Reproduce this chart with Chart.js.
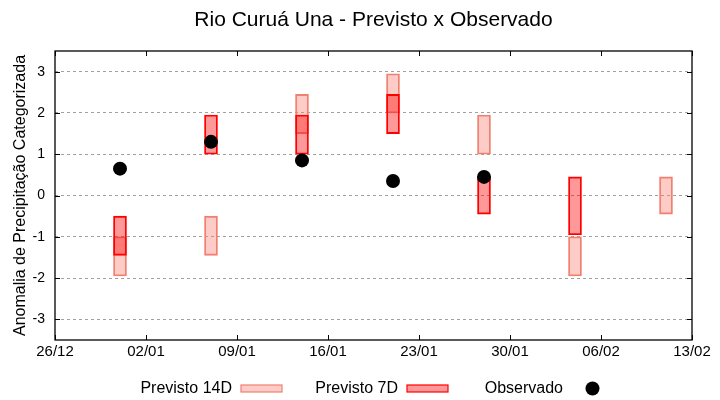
<!DOCTYPE html>
<html>
<head>
<meta charset="utf-8">
<script src="https://cdn.jsdelivr.net/npm/chart.js@4"></script>
<style>
  html, body { margin: 0; padding: 0; background: #fff; }
  #wrap { width: 720px; height: 400px; }
</style>
</head>
<body>
<div id="wrap"><canvas id="chart" width="720" height="400"></canvas></div>
<script>
// ── Data ──
const chartTitle  = 'Rio Curuá Una - Previsto x Observado';
const weeks       = ['31/12', '07/01', '14/01', '21/01', '28/01', '04/02', '11/02'];
const prev14Low   = [-1.95, -1.45, 1.5, 2.0, 1.0, -1.95, -0.45];
const prev14High  = [-1.0, -0.5, 2.45, 2.95, 1.95, -1.0, 0.45];
const prev7Low    = [-1.45, 1.0, 1.0, 1.5, -0.45, -0.95, null];
const prev7High   = [-0.5, 1.95, 1.95, 2.45, 0.45, 0.45, null];
const observed    = [0.65, 1.3, 0.85, 0.35, 0.45, null, null];
const xTickLabels = ['26/12', '02/01', '09/01', '16/01', '23/01', '30/01', '06/02', '13/02'];
const yTicks      = [-3, -2, -1, 0, 1, 2, 3];
const legendLabels = ['Previsto 14D', 'Previsto 7D', 'Observado'];

// ── Helpers ──
const FONT = "'Liberation Sans', Arial, sans-serif";
const base = Date.UTC(2023, 11, 26);
function dayOf(lbl) {
  const [d, m] = lbl.split('/').map(Number);
  const y = m === 12 ? 2023 : 2024;
  return Math.round((Date.UTC(y, m - 1, d) - base) / 86400000);
}
const xTickDays = xTickLabels.map(dayOf);

const c14Fill = 'rgba(250,128,114,0.4)', c14Line = '#f08072';
const c7Fill  = 'rgba(255,0,0,0.4)',     c7Line  = '#ff0000';

function bars(lo, hi) {
  return weeks.map((w, i) => lo[i] == null ? null : { x: dayOf(w), y: [lo[i], hi[i]] }).filter(Boolean);
}
const obsPts = weeks.map((w, i) => observed[i] == null ? null : { x: dayOf(w), y: observed[i] }).filter(Boolean);

// ── Frame, inner ticks, title and key (gnuplot look) ──
const framePlugin = {
  id: 'frame',
  afterDatasetsDraw(chart) {
    const { ctx, chartArea: a, scales: { x, y } } = chart;
    ctx.save();
    ctx.strokeStyle = '#000';
    ctx.lineWidth = 1.3;
    ctx.strokeRect(a.left, a.top, a.right - a.left, a.bottom - a.top);
    ctx.lineWidth = 1;
    ctx.beginPath();
    yTicks.forEach(v => {
      const py = Math.round(y.getPixelForValue(v)) + 0.5;
      ctx.moveTo(a.left, py); ctx.lineTo(a.left + 5, py);
      ctx.moveTo(a.right, py); ctx.lineTo(a.right - 5, py);
    });
    xTickDays.forEach(v => {
      const px = Math.round(x.getPixelForValue(v)) + 0.5;
      ctx.moveTo(px, a.bottom); ctx.lineTo(px, a.bottom - 5);
      ctx.moveTo(px, a.top); ctx.lineTo(px, a.top + 5);
    });
    ctx.stroke();

    // title, centred over the plot area
    ctx.fillStyle = '#000';
    ctx.font = '21px ' + FONT;
    ctx.textAlign = 'center';
    ctx.textBaseline = 'middle';
    ctx.fillText(chartTitle, (a.left + a.right) / 2, 20.6);

    // key
    const keyRight = [232, 398, 563];
    const ky = 388.5;
    ctx.font = '16px ' + FONT;
    ctx.textAlign = 'right';
    legendLabels.forEach((t, i) => ctx.fillText(t, keyRight[i], ky));
    const fills = [c14Fill, c7Fill], lines = [c14Line, c7Line];
    for (let i = 0; i < 2; i++) {
      const sx = keyRight[i] + 9;
      ctx.fillStyle = fills[i];
      ctx.fillRect(sx, ky - 3.5, 41, 7);
      ctx.strokeStyle = lines[i];
      ctx.lineWidth = 1.2;
      ctx.strokeRect(sx, ky - 3.5, 41, 7);
    }
    ctx.fillStyle = '#000';
    ctx.beginPath();
    ctx.arc(keyRight[2] + 29.5, ky, 7, 0, Math.PI * 2);
    ctx.fill();
    ctx.restore();
  }
};

// ── Chart ──
new Chart(document.getElementById('chart').getContext('2d'), {
  data: {
    datasets: [
      {
        type: 'scatter',
        label: legendLabels[2],
        data: obsPts,
        backgroundColor: '#000',
        borderWidth: 0,
        pointRadius: 7,
        order: 1,
      },
      {
        type: 'bar',
        label: legendLabels[1],
        data: bars(prev7Low, prev7High),
        backgroundColor: c7Fill,
        borderColor: c7Line,
        borderWidth: 1.2,
        borderSkipped: false,
        barThickness: 13,
        grouped: false,
        order: 2,
      },
      {
        type: 'bar',
        label: legendLabels[0],
        data: bars(prev14Low, prev14High),
        backgroundColor: c14Fill,
        borderColor: c14Line,
        borderWidth: 1.2,
        borderSkipped: false,
        barThickness: 13,
        grouped: false,
        order: 3,
      }
    ]
  },
  options: {
    responsive: false,
    animation: false,
    layout: { padding: { left: 0, right: 28, top: 51, bottom: 0 } },
    plugins: {
      legend: { display: false },
      tooltip: { enabled: false },
      title: { display: false }
    },
    scales: {
      x: {
        type: 'linear',
        offset: false,
        min: 0,
        max: 49,
        afterBuildTicks: s => { s.ticks = xTickDays.map(v => ({ value: v })); },
        afterFit: s => { s.height = 60; },
        grid: { display: false, drawTicks: false, offset: false },
        border: { display: false },
        ticks: {
          color: '#000',
          font: { family: FONT, size: 15 },
          padding: 3,
          maxRotation: 0,
          callback: v => xTickLabels[xTickDays.indexOf(v)] ?? ''
        }
      },
      y: {
        min: -3.5,
        max: 3.5,
        afterBuildTicks: s => { s.ticks = yTicks.map(v => ({ value: v })); },
        afterFit: s => { s.width = 55; },
        grid: { color: '#a0a0a0', lineWidth: 1, drawTicks: false },
        border: { display: false, dash: [3, 3] },
        ticks: {
          color: '#000',
          font: { family: FONT, size: 14 },
          padding: 10,
        },
        title: {
          display: true,
          text: 'Anomalia de Precipitação Categorizada',
          color: '#000',
          font: { family: FONT, size: 16 },
          padding: { top: 11, bottom: 0 }
        }
      }
    }
  },
  plugins: [framePlugin]
});
</script>
</body>
</html>
